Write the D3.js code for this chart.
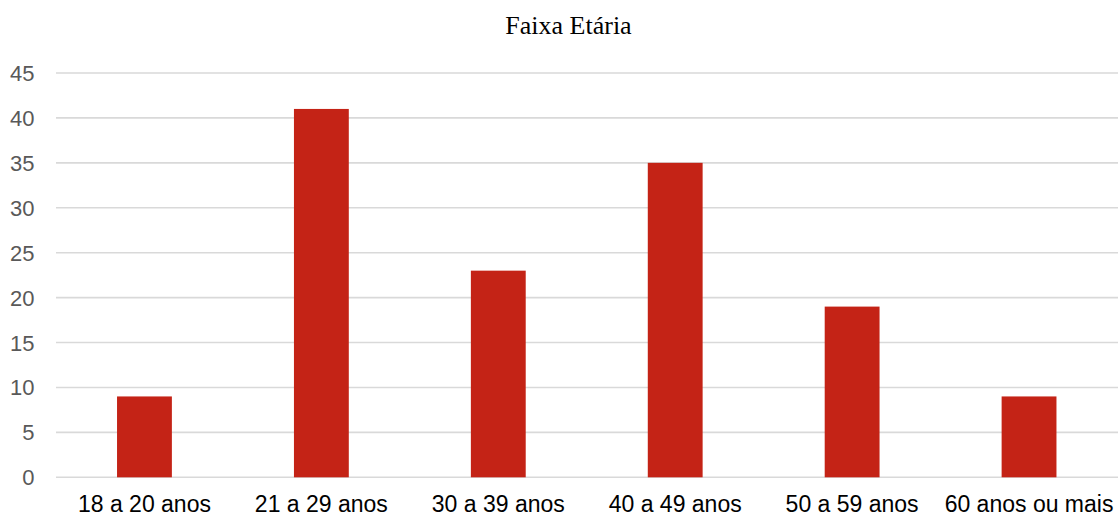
<!DOCTYPE html>
<html><head><meta charset="utf-8">
<script src="https://cdn.jsdelivr.net/npm/d3@7"></script>
<style>body{margin:0;background:#fff}</style>
</head><body>
<svg id="c" width="1120" height="517"></svg>
<script>
const categories = ["18 a 20 anos","21 a 29 anos","30 a 39 anos","40 a 49 anos","50 a 59 anos","60 anos ou mais"];
const values = [9, 41, 23, 35, 19, 9];
const yTicks = [0,5,10,15,20,25,30,35,40,45];
const title = "Faixa Etária";

const svg = d3.select("#c");
const x = d3.scaleBand().domain(categories).range([56, 1117.5]).paddingInner(0.69).paddingOuter(0.345);
const y = d3.scaleLinear().domain([0,45]).range([477.3, 73]);

svg.append("g").selectAll("line").data(yTicks).join("line")
  .attr("x1", 56).attr("x2", 1118)
  .attr("y1", d => y(d)).attr("y2", d => y(d))
  .attr("stroke", "#d9d9d9").attr("stroke-width", 1.6);

svg.append("g").selectAll("text").data(yTicks).join("text")
  .attr("x", 34.5).attr("y", d => y(d) + 8)
  .attr("text-anchor", "end")
  .attr("font-family", "Liberation Sans, Arial, sans-serif")
  .attr("font-size", 22).attr("fill", "#595959")
  .text(d => d);

svg.append("g").selectAll("rect").data(values).join("rect")
  .attr("x", (d,i) => x(categories[i]))
  .attr("width", x.bandwidth())
  .attr("y", d => y(d))
  .attr("height", d => y(0) - y(d))
  .attr("fill", "#c42316");

svg.append("g").selectAll("text").data(categories).join("text")
  .attr("x", d => x(d) + x.bandwidth()/2).attr("y", 511.5)
  .attr("text-anchor", "middle")
  .attr("font-family", "Liberation Sans, Arial, sans-serif")
  .attr("font-size", 23).attr("fill", "#000")
  .text(d => d);

svg.append("text").attr("x", 568.5).attr("y", 33.5)
  .attr("text-anchor", "middle")
  .attr("font-family", "Liberation Serif, Times New Roman, serif")
  .attr("font-size", 26).attr("fill", "#000")
  .text(title);
</script>
</body></html>
